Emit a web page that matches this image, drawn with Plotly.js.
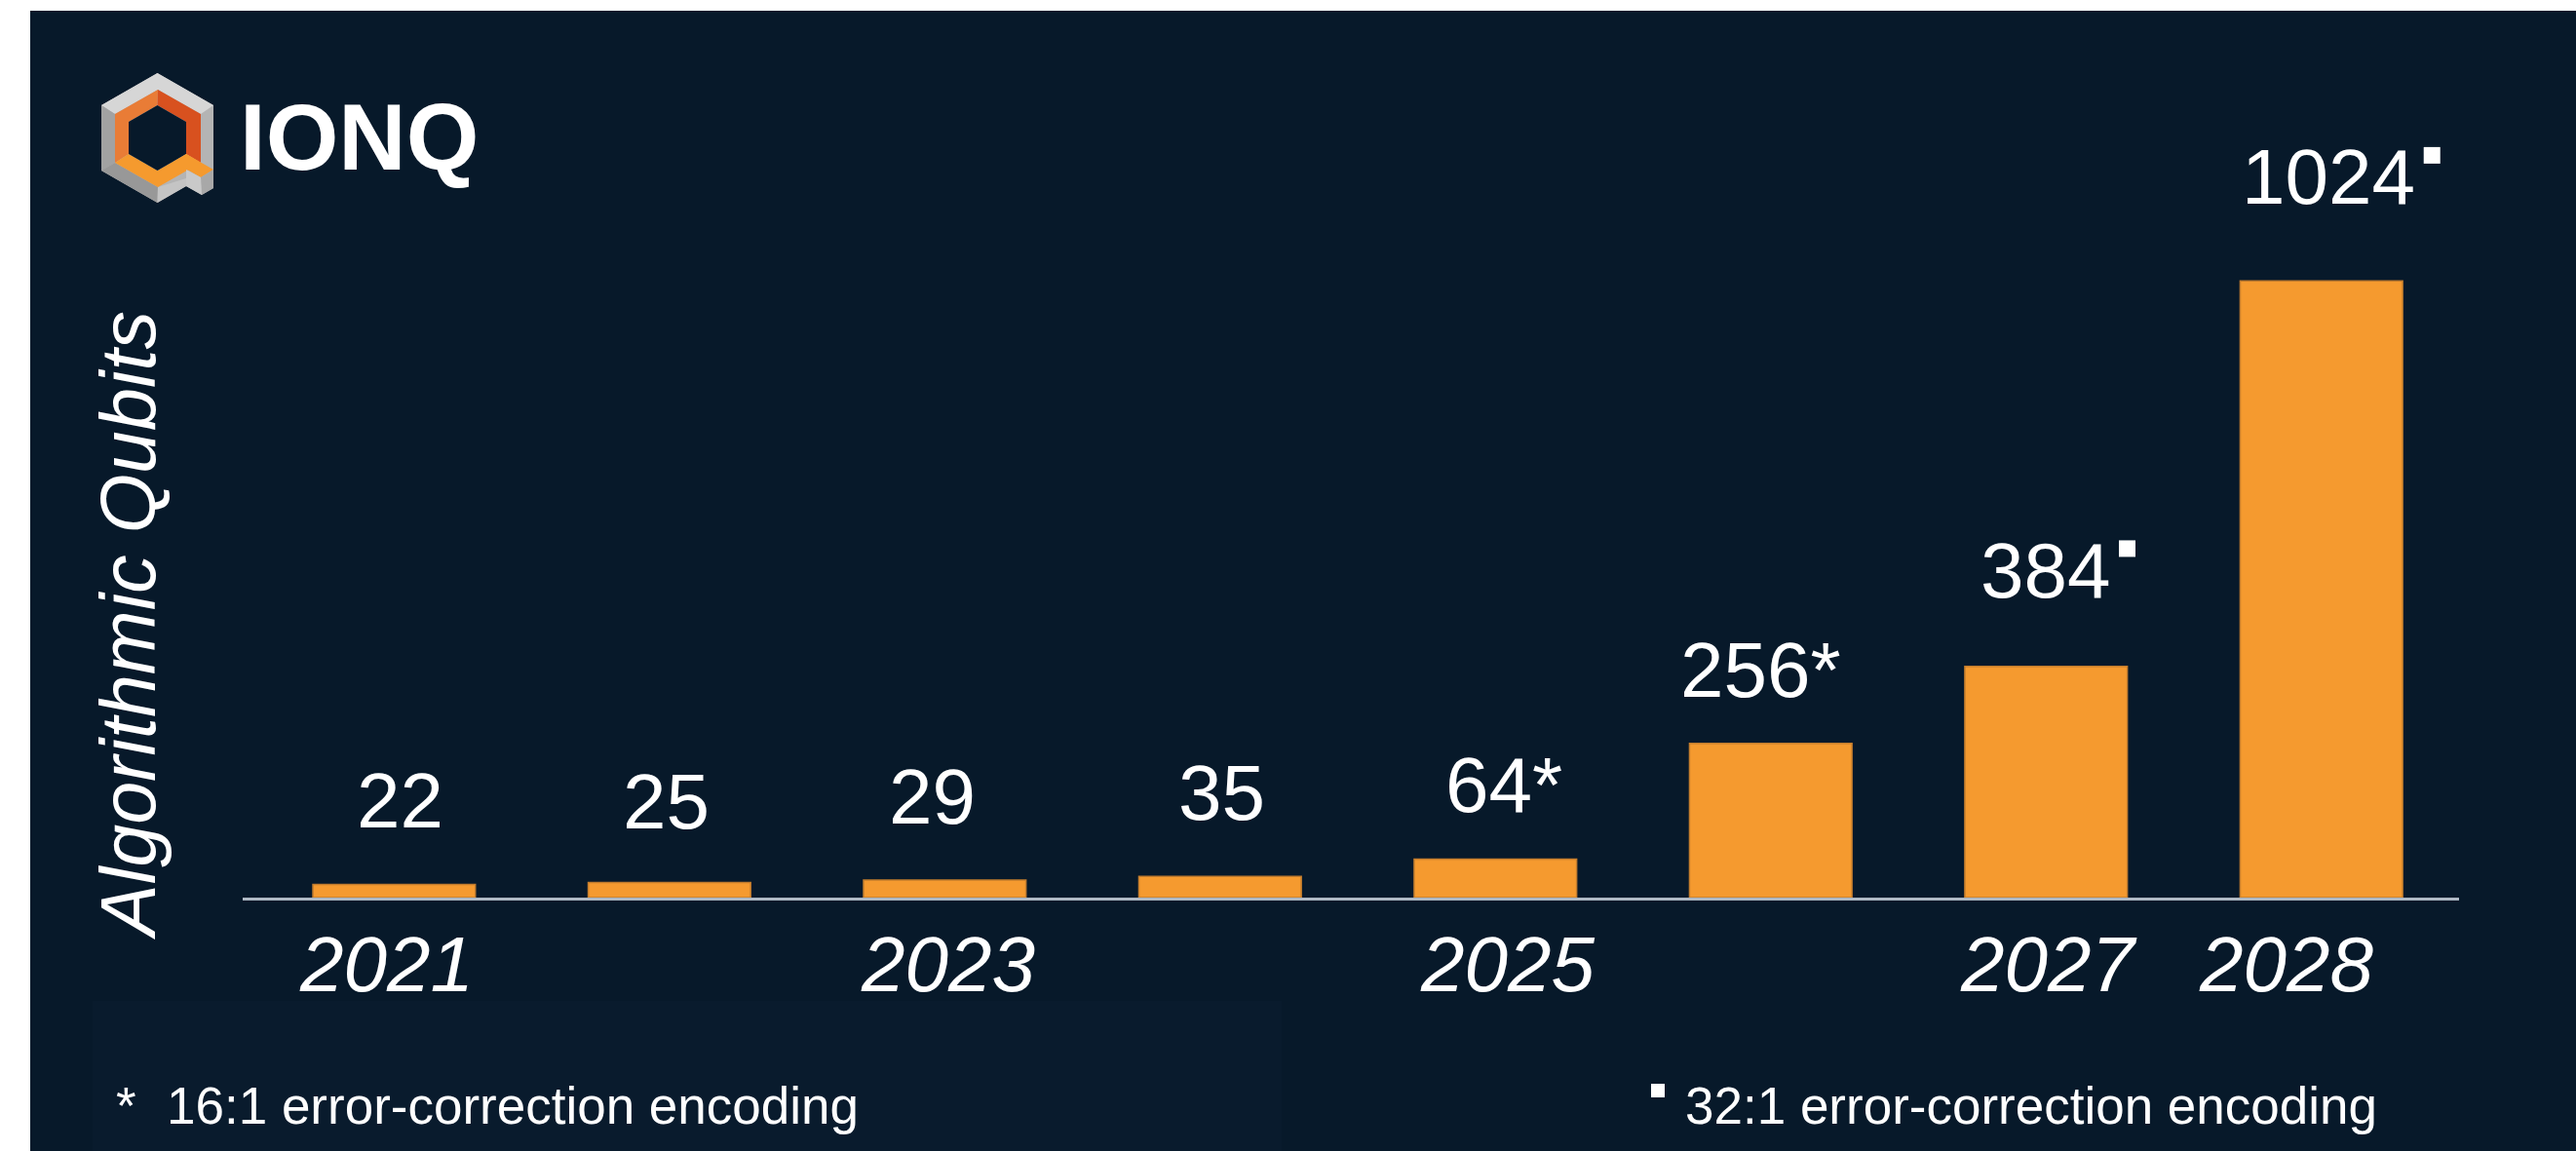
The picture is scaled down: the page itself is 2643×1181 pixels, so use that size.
<!DOCTYPE html>
<html><head><meta charset="utf-8">
<script src="https://cdn.plot.ly/plotly-3.0.1.min.js"></script>
<style>html,body{margin:0;padding:0;background:#fff;overflow:hidden}</style>
</head><body><div id="chart" style="width:2643px;height:1181px"></div>
<script>
// ---------------- data ----------------
const years = [2021, 2022, 2023, 2024, 2025, 2026, 2027, 2028];
const qubits = [22, 25, 29, 35, 64, 256, 384, 1024];
const encoding = ['', '', '', '', '16:1', '16:1', '32:1', '32:1'];
const yearTickLabels = ['2021','','2023','','2025','','2027','2028'];
const yTitle = 'Algorithmic Qubits';
const footnotes = ['16:1 error-correction encoding', '32:1 error-correction encoding'];
const brand = 'IONQ';

// ---------------- styles / layout geometry ----------------
const W = 2643, H = 1181, L = 249, R = 120, T = 100, B = 260;
const PW = W - L - R, PH = H - T - B;
const PX_PER_QUBIT = 0.618;
const BG = '#07192a';
const BAR = '#f59a2f';
const FONT = '"Liberation Sans", Arial, Helvetica, sans-serif';
const LABEL_SIZE = 80;
const labelDX = [6, -3, -13, 2, 9, -10, -1, 7];     // horizontal nudge of value labels
const labelGap = [56, 54, 56, 56, 46, 46, 69, 77];  // baseline gap above bar top
const yearDX = [-8, 0, 3, 0, 12, 0, 2, -36];

const px = x => (x - L) / PW;
const py = y => (H - B - y) / PH;

const shapes = [];
const annotations = [];

// background card (white strip at top/left in original)
shapes.push({type:'rect', xref:'paper', yref:'paper', x0:px(31), x1:px(W+5), y0:py(H+5), y1:py(11),
  fillcolor:BG, line:{width:0}, layer:'below'});
// faint footnote panel
shapes.push({type:'rect', xref:'paper', yref:'paper', x0:px(95), x1:px(1315), y0:py(H+5), y1:py(1027),
  fillcolor:'#091b2d', line:{width:0}, layer:'below'});

// ---------------- logo ----------------
function poly(pts, color) {
  return {type:'path', xref:'paper', yref:'paper', layer:'below', fillcolor:color, line:{width:0},
    path:'M' + pts.map(p => px(p[0]).toFixed(5) + ',' + py(p[1]).toFixed(5)).join('L') + 'Z'};
}
const Tp=[161.5,75], UR=[219,108], LR=[219,175], Bp=[161.5,208], LL=[104,175], UL=[104,108];
const oT=[162,92], oUR=[206,117], oLR=[206,167], oB=[162,192], oLL=[118,167], oUL=[118,117];
const hT=[161.5,108], hUR=[191,125], hLR=[191,158], hB=[161.5,175], hLL=[132,158], hUL=[132,125];
shapes.push(poly([Tp,UR,[219,193],[207,200],[191,191],Bp,LL,UL], '#b4b4b4'));
shapes.push(poly([Tp,UR,oUR,oT,oUL,UL], '#d6d6d6'));
shapes.push(poly([UL,oUL,oLL,LL], '#a2a2a2'));
shapes.push(poly([LL,oLL,oB,Bp], '#989898'));
shapes.push(poly([oB,[191,183],[191,191],Bp], '#c4c4c4'));
shapes.push(poly([oT,oUL,oLL,hLL,hUL,hT], '#e97c36'));
shapes.push(poly([oT,oUR,oLR,hLR,hUR,hT], '#d8511f'));
shapes.push(poly([oLL,oB,oLR,hLR,hB,hLL], '#f59a2e'));
shapes.push(poly([hT,hUR,hLR,hB,hLL,hUL], BG));
shapes.push(poly([[191,158],[219,174],[206,182],[178,166]], '#f59a2e'));
shapes.push(poly([[206,182],[219,174],[219,193],[207,200]], '#a8a8a8'));
shapes.push(poly([[191,174],[206,182],[207,200],[191,191]], '#c9c9c9'));
annotations.push({xref:'paper', yref:'paper', x:px(368.5), y:py(196), xanchor:'center', yanchor:'bottom',
  text:'<b>' + brand + '</b>', showarrow:false, font:{family:FONT, size:96, color:'#ffffff'}});

// ---------------- value labels ----------------
qubits.forEach((v, i) => {
  const suffix = encoding[i] === '16:1' ? '*' : '';
  annotations.push({x:years[i], y:v, xref:'x', yref:'y', xanchor:'center', yanchor:'bottom',
    xshift:labelDX[i], yshift:labelGap[i] - 17, showarrow:false, text:String(v) + suffix,
    font:{family:FONT, size:LABEL_SIZE, color:'#ffffff'}});
  if (encoding[i] === '32:1') {
    const n = String(v).length;
    const right = labelDX[i] + n * 0.556 * LABEL_SIZE / 2 - 3;
    const capTop = labelGap[i] + 0.716 * LABEL_SIZE;
    shapes.push({type:'rect', xref:'x', yref:'y', xsizemode:'pixel', ysizemode:'pixel',
      xanchor:years[i], yanchor:v, x0:right + 12, x1:right + 29, y0:capTop - 14, y1:capTop + 3,
      fillcolor:'#ffffff', line:{width:0}});
  }
});

// ---------------- year labels ----------------
yearTickLabels.forEach((t, i) => {
  if (!t) return;
  annotations.push({x:years[i], y:0, xref:'x', yref:'y', xanchor:'center', yanchor:'top',
    xshift:yearDX[i], yshift:-22, showarrow:false, text:t,
    font:{family:FONT, size:80, color:'#ffffff', style:'italic'}});
});

// ---------------- y title ----------------
annotations.push({xref:'paper', yref:'paper', x:px(131), y:py(642), xanchor:'center', yanchor:'middle',
  textangle:-90, showarrow:false, text:yTitle, font:{family:FONT, size:79, color:'#ffffff', style:'italic'}});

// ---------------- footnotes ----------------
annotations.push({xref:'paper', yref:'paper', x:px(129), y:py(1166), xanchor:'center', yanchor:'bottom',
  showarrow:false, text:'*', font:{family:FONT, size:53, color:'#ffffff'}});
annotations.push({xref:'paper', yref:'paper', x:px(169), y:py(1166), xanchor:'left', yanchor:'bottom',
  showarrow:false, text:footnotes[0], font:{family:FONT, size:53, color:'#ffffff'}});
shapes.push({type:'rect', xref:'paper', yref:'paper', x0:px(1694), x1:px(1708), y0:py(1126), y1:py(1112),
  fillcolor:'#ffffff', line:{width:0}});
annotations.push({xref:'paper', yref:'paper', x:px(1727), y:py(1166), xanchor:'left', yanchor:'bottom',
  showarrow:false, text:footnotes[1], font:{family:FONT, size:53, color:'#ffffff'}});

const trace = {
  type:'bar', x:years, y:qubits,
  marker:{color:BAR, line:{color:'#c47d2d', width:1.5}},
  hoverinfo:'skip'
};

const layout = {
  width:W, height:H,
  margin:{l:L, r:R, t:T, b:B, pad:0},
  paper_bgcolor:'#ffffff', plot_bgcolor:'rgba(0,0,0,0)',
  showlegend:false, bargap:0.41, hovermode:false,
  xaxis:{type:'linear', range:[years[0] - 0.55, years[years.length - 1] + 0.5], showgrid:false, zeroline:false,
    showticklabels:false, ticks:'', showline:true, linecolor:'#aeb8c3', linewidth:3, fixedrange:true},
  yaxis:{type:'linear', range:[0, PH / PX_PER_QUBIT], showgrid:false, zeroline:false, showticklabels:false, ticks:'',
    showline:false, fixedrange:true},
  shapes:shapes, annotations:annotations
};

Plotly.newPlot('chart', [trace], layout, {displayModeBar:false, staticPlot:true});
</script>
</body></html>
